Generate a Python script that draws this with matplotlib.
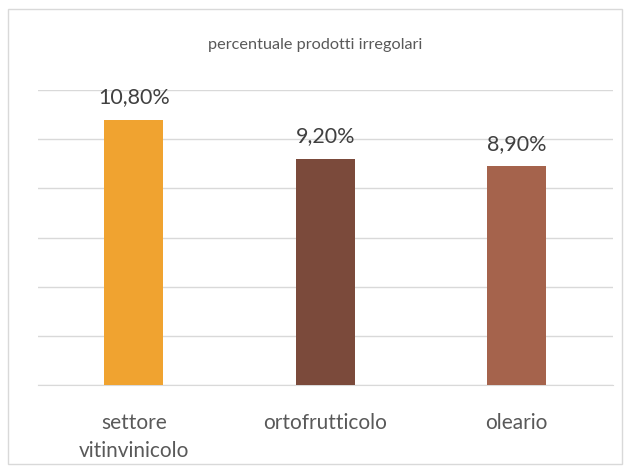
import matplotlib
matplotlib.use("Agg")
import matplotlib.pyplot as plt
from matplotlib.patches import Rectangle

categories = ["settore\nvitinvinicolo", "ortofrutticolo", "oleario"]
values = [10.8, 9.2, 8.9]
labels = ["10,80%", "9,20%", "8,90%"]
colors = ["#F0A330", "#7B4A3B", "#A5634C"]

plt.rcParams["font.family"] = ["Lato", "DejaVu Sans"]
TEXT = "#595959"

fig = plt.figure(figsize=(6.3, 4.71), dpi=100)
ax = fig.add_axes([38 / 630, 86 / 471, 574.5 / 630, 295 / 471])

x = range(len(categories))
bars = ax.bar(x, values, width=0.31, color=colors, zorder=3)
for b, lab in zip(bars, labels):
    ax.text(b.get_x() + b.get_width() / 2, b.get_height() + 0.5, lab,
            ha="center", va="bottom", fontsize=15.5, color="#404040")

ax.set_xlim(-0.5, 2.5)
ax.set_ylim(0, 12)
ax.set_yticks(range(0, 13, 2))
ax.yaxis.grid(True, color="#D9D9D9", linewidth=1, zorder=0)
ax.tick_params(axis="y", left=False, labelleft=False)
ax.tick_params(axis="x", length=0, pad=20)
ax.set_xticks(list(x))
ax.set_xticklabels(categories, fontsize=15, color=TEXT, linespacing=1.5, va="top")
for s in ["top", "right", "left"]:
    ax.spines[s].set_visible(False)
ax.spines["bottom"].set_color("#D9D9D9")

fig.text(0.5, (471 - 45) / 471, "percentuale prodotti irregolari",
         ha="center", va="center", fontsize=11.7, color=TEXT)

# outer chart frame
fig.patches.append(Rectangle((8 / 630, 7 / 471), 614 / 630, 455 / 471,
                             transform=fig.transFigure, fill=False,
                             edgecolor="#D9D9D9", linewidth=1))

fig.savefig("out.png", dpi=100)
